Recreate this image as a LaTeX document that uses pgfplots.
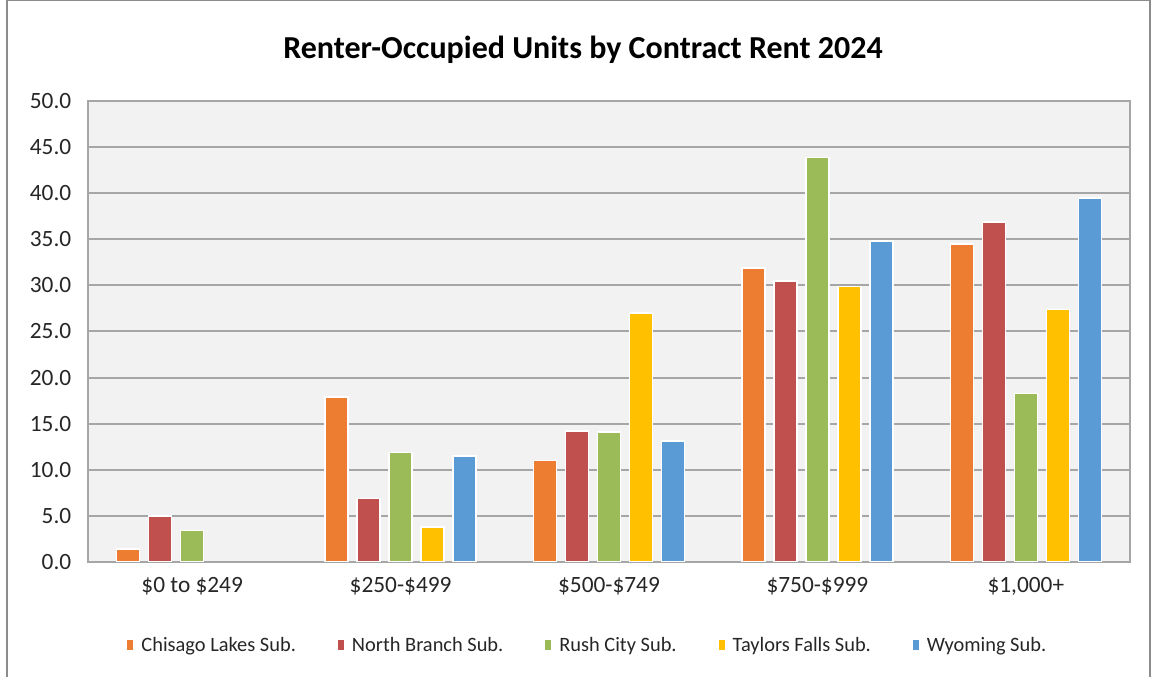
\documentclass[border=0pt]{standalone}
\usepackage{fontspec}
\setmainfont{Carlito}
\usepackage{pgfplots}
\pgfplotsset{compat=1.18}
\definecolor{cO}{HTML}{ED7D31}
\definecolor{cR}{HTML}{C0504D}
\definecolor{cG}{HTML}{9BBB59}
\definecolor{cY}{HTML}{FFC000}
\definecolor{cB}{HTML}{5B9BD5}
\definecolor{bgc}{HTML}{F2F2F2}
\definecolor{gridc}{HTML}{A6A6A6}
\definecolor{framec}{HTML}{8C8C8C}
\definecolor{txt}{HTML}{262626}
\begin{document}
\begin{tikzpicture}[x=0.75pt,y=0.75pt]
\useasboundingbox (-88,-115) rectangle (1064,562);
\fill[white] (-88,-115) rectangle (1064,562);
\draw[color=framec, line width=1.2pt] (-81,-130) rectangle (1062,561.3);
\begin{axis}[
  at={(0,0)}, anchor=south west,
  scale only axis, width=781.5pt, height=345.75pt,
  ybar=6.75pt, bar width=17.25pt,
  xmin=-0.5, xmax=4.5, ymin=0, ymax=50,
  ytick={0,5,...,50},
  xtick=data,
  xticklabels={{\$0 to \$249},{\$250-\$499},{\$500-\$749},{\$750-\$999},{\$1,000+}},
  axis background/.style={fill=bgc},
  ymajorgrids,
  grid style={color=gridc, line width=1.5pt},
  axis line style={color=gridc, line width=1.5pt},
  major tick length=0pt,
  tick label style={font=\fontsize{17.5}{20}\selectfont, text=txt},
  /pgf/number format/assume math mode=true,
  yticklabel style={/pgf/number format/fixed, /pgf/number format/fixed zerofill, /pgf/number format/precision=1, xshift=-9pt},
  xticklabel style={yshift=-8pt},
  legend style={at={(0.480,-0.180)}, anchor=center, draw=none, fill=none,
    legend columns=5, font=\fontsize{15.3}{18}\selectfont, text=txt,
    /tikz/every odd column/.append style={column sep=4pt},
    /tikz/every even column/.append style={column sep=29.5pt}},
  legend image code/.code={\fill[#1,draw=none] (0pt,-3.75pt) rectangle (4.5pt,3.75pt);},
]
\addplot[fill=cO, draw=white, line width=1.1pt] coordinates {(0,1.4) (1,17.9) (2,11.0) (3,31.9) (4,34.5)};
\addplot[fill=cR, draw=white, line width=1.1pt] coordinates {(0,5.0) (1,6.9) (2,14.2) (3,30.5) (4,36.9)};
\addplot[fill=cG, draw=white, line width=1.1pt] coordinates {(0,3.4) (1,11.9) (2,14.1) (3,43.9) (4,18.3)};
\addplot[fill=cY, draw=white, line width=1.1pt] coordinates {(1,3.8) (2,27.0) (3,29.9) (4,27.4)};
\addplot[fill=cB, draw=white, line width=1.1pt] coordinates {(1,11.5) (2,13.1) (3,34.8) (4,39.5)};
\legend{Chisago Lakes Sub.,North Branch Sub.,Rush City Sub.,Taylors Falls Sub.,Wyoming Sub.}
\end{axis}
\node[font=\bfseries\fontsize{24}{28}\selectfont, text=black] at (495,512) {Renter-Occupied Units by Contract Rent 2024};
\end{tikzpicture}
\end{document}
